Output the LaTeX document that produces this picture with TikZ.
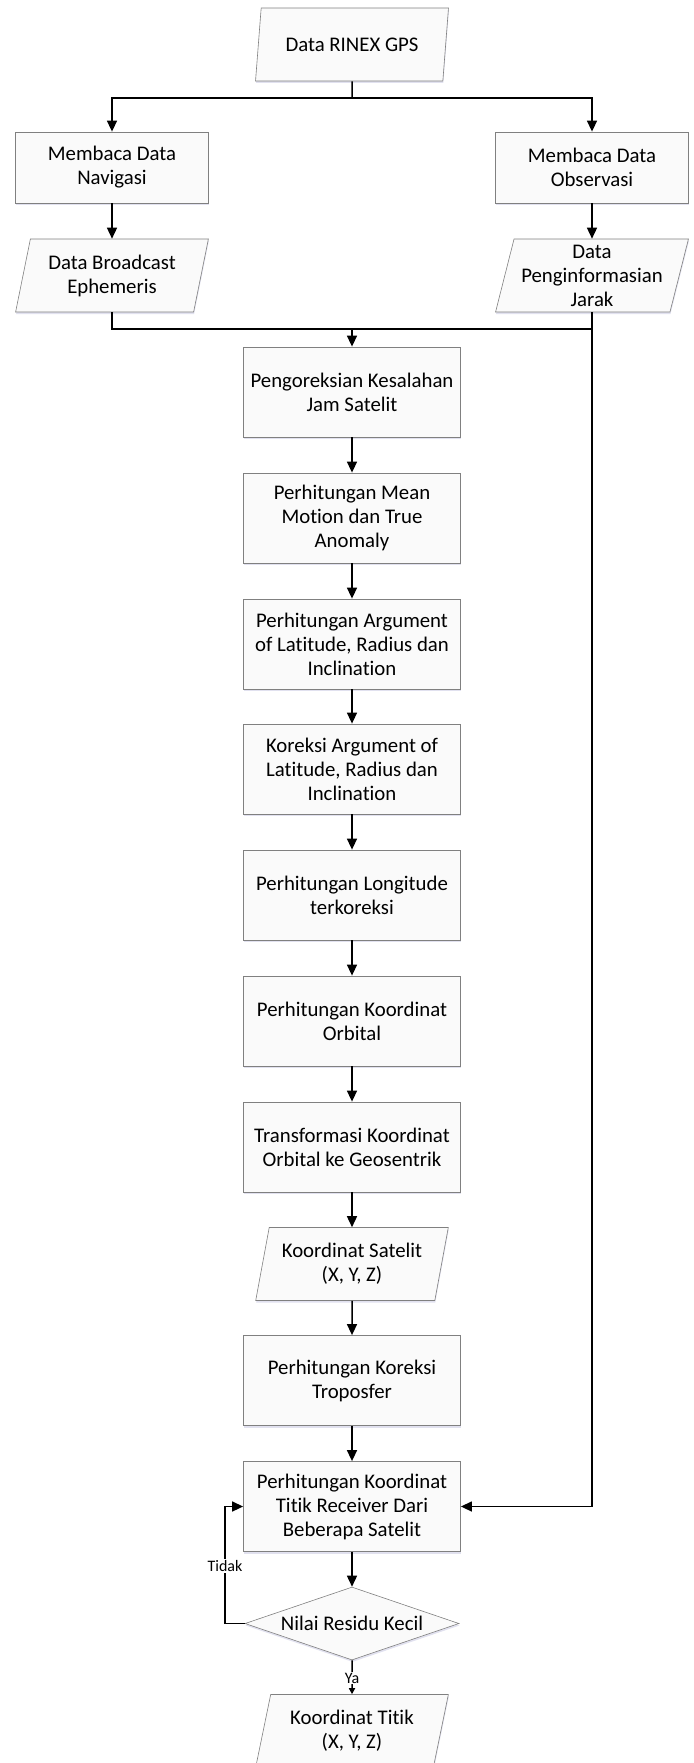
\documentclass[tikz,border=0pt]{standalone}
\usepackage{fontspec}
\setmainfont{Carlito}[Ligatures={NoCommon}]
\usetikzlibrary{arrows.meta,shapes.geometric,shadows}
\begin{document}
\begin{tikzpicture}[x=1pt,y=-1pt,
  font=\fontsize{20.8}{24}\selectfont,
  shad/.style={drop shadow={shadow xshift=0.5pt,shadow yshift=-2pt,opacity=0.18,fill=blue!30!gray}},
  box/.style={rectangle, draw=black!50, line width=0.8pt, fill=black!2, shad,
    minimum width=217pt, minimum height=90pt, align=center, inner sep=2pt},
  sbox/.style={box, minimum width=193pt, minimum height=71pt},
  io/.style={trapezium, trapezium left angle=75, trapezium right angle=105,
    trapezium stretches=true, draw=black!50, line width=0.6pt, fill=black!2, shad,
    minimum width=193pt, minimum height=73pt, align=center, inner sep=1pt},
  dec/.style={diamond, draw=black!50, line width=0.6pt, fill=black!2, shad,
    minimum width=214pt, minimum height=73pt, inner sep=0pt, aspect=2.9},
  ln/.style={line width=1.5pt},
  arr/.style={ln, -{Triangle[length=11pt,width=10pt]}},
  lbl/.style={fill=white, font=\fontsize{16}{19}\selectfont, inner sep=1pt}
]
\clip (0,0) rectangle (693,1763);

\node[io] (rinex) at (352,44.5) {Data RINEX GPS};
\node[sbox] (nav) at (112,167.5) {Membaca Data\\Navigasi};
\node[sbox] (obs) at (592,167.5) {Membaca Data\\Observasi};
\node[io] (dbe) at (112,275.5) {Data Broadcast\\Ephemeris};
\node[io] (dpj) at (592,275.5) {Data\\Penginformasian\\Jarak};

\node[box] (b1) at (352,392) {Pengoreksian Kesalahan\\Jam Satelit};
\node[box] (b2) at (352,518) {Perhitungan Mean\\Motion dan True\\Anomaly};
\node[box] (b3) at (352,644) {Perhitungan Argument\\of Latitude, Radius dan\\Inclination};
\node[box] (b4) at (352,769) {Koreksi Argument of\\Latitude, Radius dan\\Inclination};
\node[box] (b5) at (352,895) {Perhitungan Longitude\\terkoreksi};
\node[box] (b6) at (352,1021) {Perhitungan Koordinat\\Orbital};
\node[box] (b7) at (352,1147) {Transformasi Koordinat\\Orbital ke Geosentrik};
\node[io] (p8) at (352,1264) {Koordinat Satelit\\(X, Y, Z)};
\node[box] (b9) at (352,1380.5) {Perhitungan Koreksi\\Troposfer};
\node[box] (b10) at (352,1506.5) {Perhitungan Koordinat\\Titik Receiver Dari\\Beberapa Satelit};
\node[dec] (d11) at (352,1623.5) {Nilai Residu Kecil};
\node[io] (p12) at (352,1731) {Koordinat Titik\\(X, Y, Z)};

\coordinate (split) at (352,98);
\coordinate (merge) at (352,329);
\coordinate (loop) at (225,1623.5);

\draw[ln] (rinex) -- (split);
\draw[arr] (split) -| (nav);
\draw[arr] (split) -| (obs);
\draw[arr] (nav) -- (dbe);
\draw[arr] (obs) -- (dpj);
\draw[ln] (dbe) |- (merge);
\draw[ln] (merge) -- (merge -| dpj);
\draw[arr] (dpj) |- (b10);
\draw[arr] (merge) -- (b1);
\draw[arr] (b1) -- (b2);
\draw[arr] (b2) -- (b3);
\draw[arr] (b3) -- (b4);
\draw[arr] (b4) -- (b5);
\draw[arr] (b5) -- (b6);
\draw[arr] (b6) -- (b7);
\draw[arr] (b7) -- (p8);
\draw[arr] (p8) -- (b9);
\draw[arr] (b9) -- (b10);
\draw[arr] (b10) -- (d11);
\draw[arr] (d11.west) -- (loop) |- (b10);
\node[lbl] (tidak) at (225,1566) {Tidak};
\draw[ln, -{Triangle[length=6pt,width=6pt]}] (d11) -- (p12);
\node[lbl] (ya) at (352,1678) {Ya};
\end{tikzpicture}
\end{document}
